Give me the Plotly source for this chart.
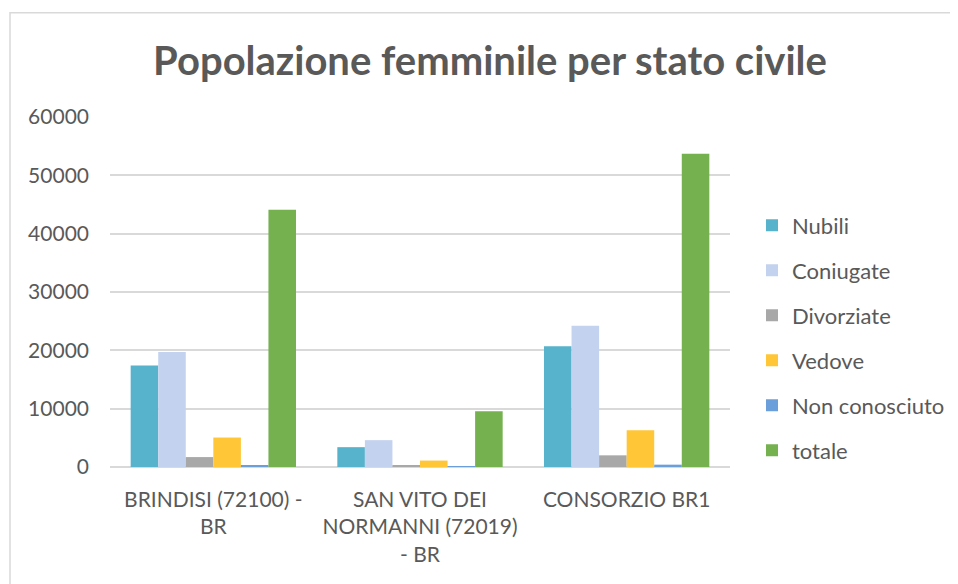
import plotly.graph_objects as go

categories = ["BRINDISI (72100) -<br>BR", "SAN VITO DEI<br>NORMANNI (72019)<br>- BR", "CONSORZIO BR1"]
nubili = [17400, 3400, 20700]
coniugate = [19700, 4600, 24200]
divorziate = [1700, 300, 2000]
vedove = [5050, 1100, 6300]
non_conosciuto = [300, 40, 400]
totale = [44100, 9550, 53700]

series = [
    ("Nubili", nubili, "#57b2cb"),
    ("Coniugate", coniugate, "#c3d2ee"),
    ("Divorziate", divorziate, "#a8a8a8"),
    ("Vedove", vedove, "#ffc637"),
    ("Non conosciuto", non_conosciuto, "#6a9fdb"),
    ("totale", totale, "#76b150"),
]

# page body has an 8px margin, so figure coordinates are page coordinates minus 8
OFF = 8
W, H = 958 - OFF, 584 - OFF
L, R, T, B = 110 - OFF, 730 - OFF, 117 - OFF, 467.5 - OFF

def px(x):
    return (x - OFF - L) / (R - L)

def py(y):
    return (B - (y - OFF)) / (B - T)

fig = go.Figure()
for i, (name, vals, col) in enumerate(series):
    fig.add_trace(go.Bar(x=categories, y=vals, name=name, marker=dict(color=col, line=dict(width=0)),
                         legendgroup=str(i)))

txt = "#595959"
fig.update_layout(
    width=W, height=H,
    margin=dict(l=L, r=W - R, t=T, b=H - B, autoexpand=False),
    paper_bgcolor="white", plot_bgcolor="white",
    barmode="group", bargap=0.2, bargroupgap=0,
    font=dict(family="Lato", color=txt, size=20),
    title=dict(text="<b>Popolazione femminile per stato civile</b>", x=(490 - OFF) / W, xanchor="center",
               y=1 - (61 - OFF) / H, yanchor="middle", font=dict(family="Lato", size=40, color=txt)),
    xaxis=dict(showgrid=False, showline=False, ticks="", tickfont=dict(size=21, color=txt),
               ticklabelstandoff=18),
    yaxis=dict(range=[0, 60000], dtick=10000, showgrid=True, gridcolor="#d9d9d9", gridwidth=1.5,
               zeroline=True, zerolinecolor="#d9d9d9", zerolinewidth=1.5, showline=False,
               tickfont=dict(size=21, color=txt), ticklen=0, ticks="", tickformat="d",
               ticklabelstandoff=20),
    legend=dict(x=px(752), y=py(204.5), xanchor="left", yanchor="top", font=dict(size=22, color=txt),
                tracegroupgap=13.4, traceorder="grouped", bgcolor="rgba(0,0,0,0)"),
    shapes=[dict(type="path", xref="paper", yref="paper",
                 path=f"M {px(10)} {py(600)} L {px(10)} {py(12.5)} L {px(970)} {py(12.5)}",
                 line=dict(color="#d9d9d9", width=1.5))],
)

fig.write_html("out.html")
